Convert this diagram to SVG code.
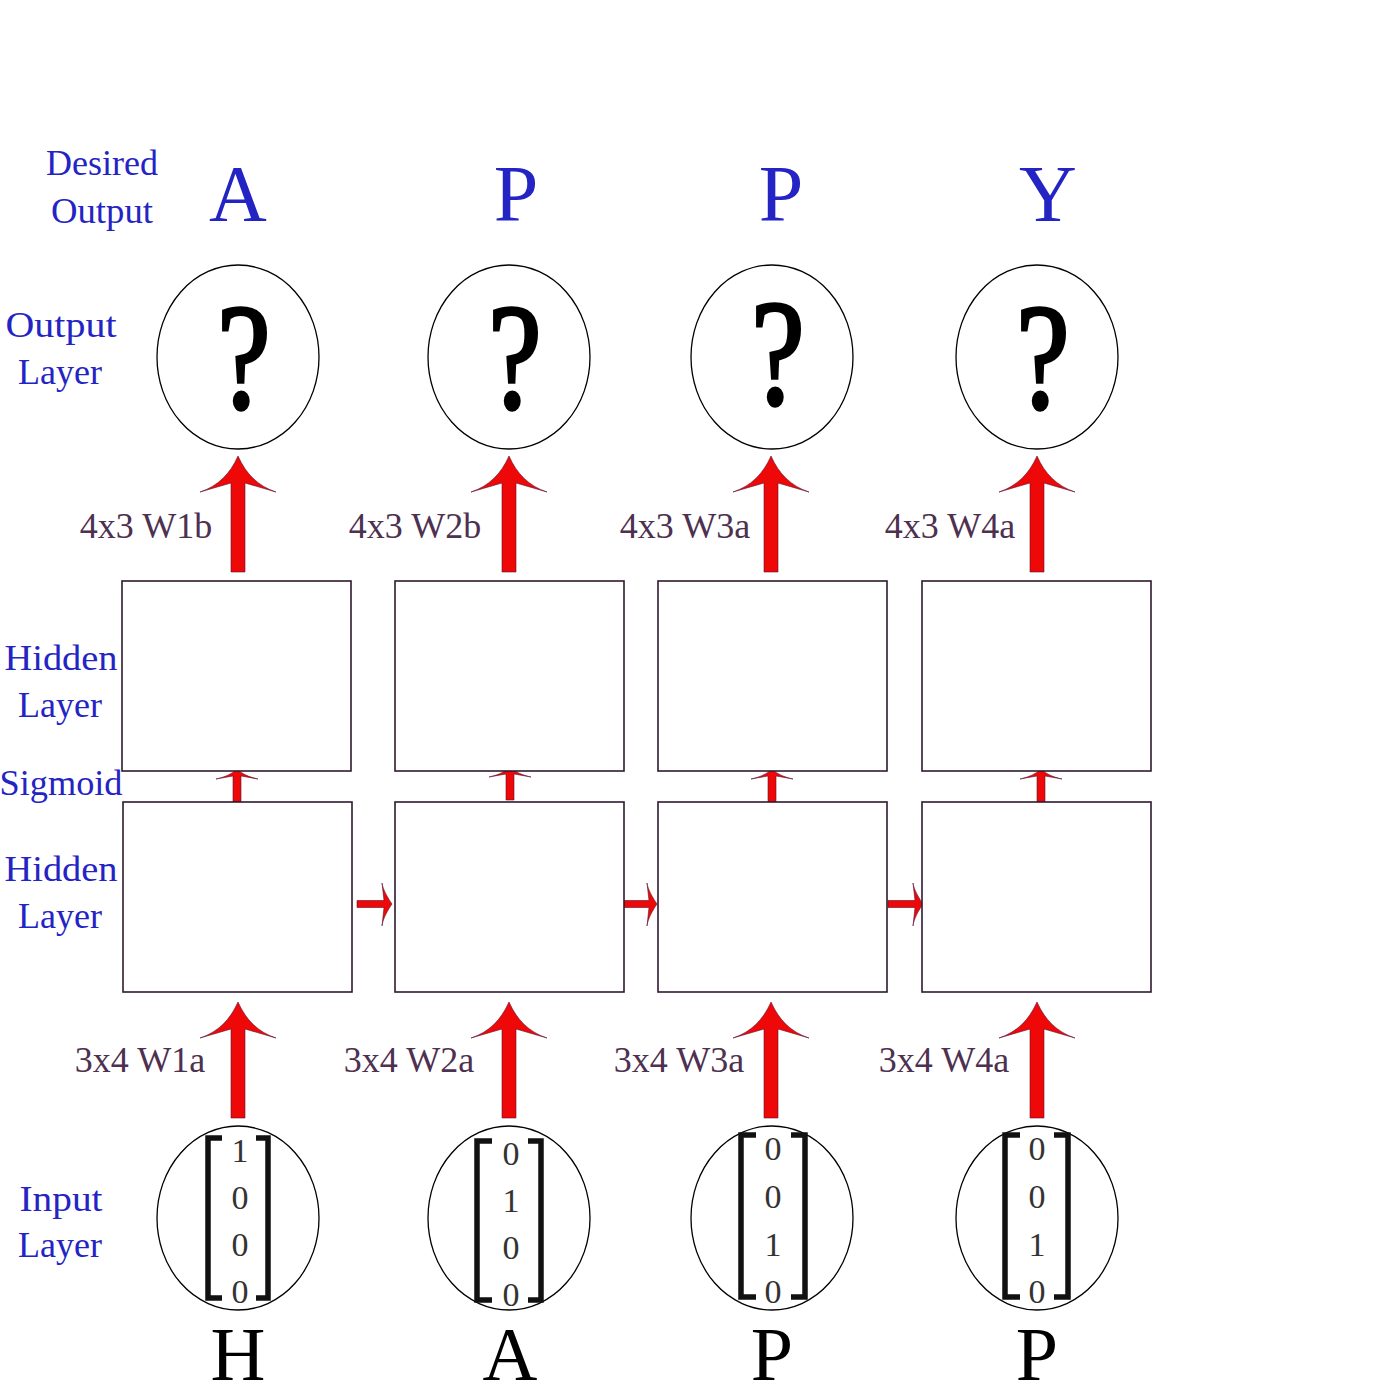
<svg xmlns="http://www.w3.org/2000/svg" xmlns:xlink="http://www.w3.org/1999/xlink" width="1400" height="1400" viewBox="0 0 1400 1400">
<style>
.lbl{font-family:"Liberation Serif",serif;font-size:36px;fill:#2424c4;text-anchor:middle}
.big{font-family:"Liberation Serif",serif;font-size:80px;fill:#2424c4;text-anchor:middle}
.w{font-family:"Liberation Serif",serif;font-size:36px;fill:#4e3050;text-anchor:middle}
.q{font-family:"Liberation Serif",serif;font-size:150px;fill:#000;stroke:#000;stroke-width:3.5;text-anchor:middle}
.d{font-family:"Liberation Serif",serif;font-size:34px;fill:#333;text-anchor:middle}
.ch{font-family:"Liberation Serif",serif;font-size:76px;fill:#000;text-anchor:middle}
.node{fill:#fff;stroke:#000;stroke-width:1.3}
.box{fill:#fff;stroke:#2e1a30;stroke-width:1.6}
.br{fill:none;stroke:#111;stroke-width:5.5}
.arr{fill:#ee0808;stroke:#5a1030;stroke-width:0.6}
</style>
<defs>
<path id="bigArrow" class="arr" d="M0,0 C -8,18 -20,30 -38,36 L -7,27 L -7,116 L 7,116 L 7,27 L 38,36 C 20,30 8,18 0,0 Z"/>
<path id="smallArrow" class="arr" d="M0,0 C -5,5 -12,8 -21,10 L -4,7 L -4,33 L 4,33 L 4,7 L 21,10 C 12,8 5,5 0,0 Z"/>
<path id="hArrow" class="arr" d="M0,0 C -4,-6 -9,-14 -10,-21 L -8,-3.5 L -35,-3.5 L -35,3.5 L -8,3.5 L -10,22 C -9,14 -4,6 0,0 Z"/>
</defs>
<rect width="1400" height="1400" fill="#fff"/>

<g id="row-labels">
<text class="lbl" x="102" y="175">Desired</text>
<text class="lbl" x="102" y="223" textLength="102" lengthAdjust="spacingAndGlyphs">Output</text>
<text class="lbl" x="61" y="337" textLength="111" lengthAdjust="spacingAndGlyphs">Output</text>
<text class="lbl" x="60" y="384">Layer</text>
<text class="lbl" x="61" y="670" textLength="113" lengthAdjust="spacingAndGlyphs">Hidden</text>
<text class="lbl" x="60" y="717">Layer</text>
<text class="lbl" x="61" y="795" textLength="123" lengthAdjust="spacingAndGlyphs">Sigmoid</text>
<text class="lbl" x="61" y="881" textLength="113" lengthAdjust="spacingAndGlyphs">Hidden</text>
<text class="lbl" x="60" y="928">Layer</text>
<text class="lbl" x="61" y="1211" textLength="83" lengthAdjust="spacingAndGlyphs">Input</text>
<text class="lbl" x="60" y="1257">Layer</text>
</g>

<g id="desired-outputs">
<text class="big" x="238" y="221">A</text>
<text class="big" x="516" y="221">P</text>
<text class="big" x="781" y="221">P</text>
<text class="big" x="1048" y="221">Y</text>
</g>

<g id="connectors">
<use xlink:href="#bigArrow" x="238" y="456"/>
<use xlink:href="#bigArrow" x="509" y="456"/>
<use xlink:href="#bigArrow" x="771" y="456"/>
<use xlink:href="#bigArrow" x="1037" y="456"/>
<use xlink:href="#smallArrow" x="237" y="769"/>
<use xlink:href="#smallArrow" x="510" y="767"/>
<use xlink:href="#smallArrow" x="772" y="769"/>
<use xlink:href="#smallArrow" x="1041" y="769"/>
<use xlink:href="#hArrow" x="392" y="904"/>
<use xlink:href="#hArrow" x="657" y="904"/>
<use xlink:href="#hArrow" x="923" y="904"/>
<use xlink:href="#bigArrow" x="238" y="1002"/>
<use xlink:href="#bigArrow" x="509" y="1002"/>
<use xlink:href="#bigArrow" x="771" y="1002"/>
<use xlink:href="#bigArrow" x="1037" y="1002"/>
</g>

<g id="weight-labels">
<text class="w" x="146" y="538">4x3 W1b</text>
<text class="w" x="415" y="538">4x3 W2b</text>
<text class="w" x="685" y="538">4x3 W3a</text>
<text class="w" x="950" y="538">4x3 W4a</text>
<text class="w" x="140" y="1072">3x4 W1a</text>
<text class="w" x="409" y="1072">3x4 W2a</text>
<text class="w" x="679" y="1072">3x4 W3a</text>
<text class="w" x="944" y="1072">3x4 W4a</text>
</g>

<g id="out1"><ellipse class="node" cx="238" cy="357" rx="81" ry="92"/><text class="q" transform="translate(244,408) scale(0.8,1)">?</text></g>
<g id="out2"><ellipse class="node" cx="509" cy="357" rx="81" ry="92"/><text class="q" transform="translate(515,408) scale(0.8,1)">?</text></g>
<g id="out3"><ellipse class="node" cx="772" cy="357" rx="81" ry="92"/><text class="q" transform="translate(778,404) scale(0.8,1)">?</text></g>
<g id="out4"><ellipse class="node" cx="1037" cy="357" rx="81" ry="92"/><text class="q" transform="translate(1043,408) scale(0.8,1)">?</text></g>

<g id="hidB1"><rect class="box" x="122" y="581" width="229" height="190"/></g>
<g id="hidB2"><rect class="box" x="395" y="581" width="229" height="190"/></g>
<g id="hidB3"><rect class="box" x="658" y="581" width="229" height="190"/></g>
<g id="hidB4"><rect class="box" x="922" y="581" width="229" height="190"/></g>

<g id="hidA1"><rect class="box" x="123" y="802" width="229" height="190"/></g>
<g id="hidA2"><rect class="box" x="395" y="802" width="229" height="190"/></g>
<g id="hidA3"><rect class="box" x="658" y="802" width="229" height="190"/></g>
<g id="hidA4"><rect class="box" x="922" y="802" width="229" height="190"/></g>

<g id="in1">
<ellipse class="node" cx="238" cy="1218" rx="81" ry="92"/>
<path class="br" d="M222,1138 H208 V1298 H222 M256,1138 H268 V1298 H256"/>
<text class="d" x="240" y="1162">1</text>
<text class="d" x="240" y="1209">0</text>
<text class="d" x="240" y="1256">0</text>
<text class="d" x="240" y="1303">0</text>
<text class="ch" x="238" y="1380">H</text>
</g>
<g id="in2">
<ellipse class="node" cx="509" cy="1218" rx="81" ry="92"/>
<path class="br" d="M492,1141 H477 V1300 H492 M528,1141 H541 V1300 H528"/>
<text class="d" x="511" y="1165">0</text>
<text class="d" x="511" y="1212">1</text>
<text class="d" x="511" y="1259">0</text>
<text class="d" x="511" y="1306">0</text>
<text class="ch" x="510" y="1380">A</text>
</g>
<g id="in3">
<ellipse class="node" cx="772" cy="1218" rx="81" ry="92"/>
<path class="br" d="M756,1135 H741 V1297 H756 M791,1135 H805 V1297 H791"/>
<text class="d" x="773" y="1160">0</text>
<text class="d" x="773" y="1208">0</text>
<text class="d" x="773" y="1256">1</text>
<text class="d" x="773" y="1303">0</text>
<text class="ch" x="772" y="1380">P</text>
</g>
<g id="in4">
<ellipse class="node" cx="1037" cy="1218" rx="81" ry="92"/>
<path class="br" d="M1020,1135 H1005 V1297 H1020 M1054,1135 H1068 V1297 H1054"/>
<text class="d" x="1037" y="1160">0</text>
<text class="d" x="1037" y="1208">0</text>
<text class="d" x="1037" y="1256">1</text>
<text class="d" x="1037" y="1303">0</text>
<text class="ch" x="1037" y="1380">P</text>
</g>
</svg>
